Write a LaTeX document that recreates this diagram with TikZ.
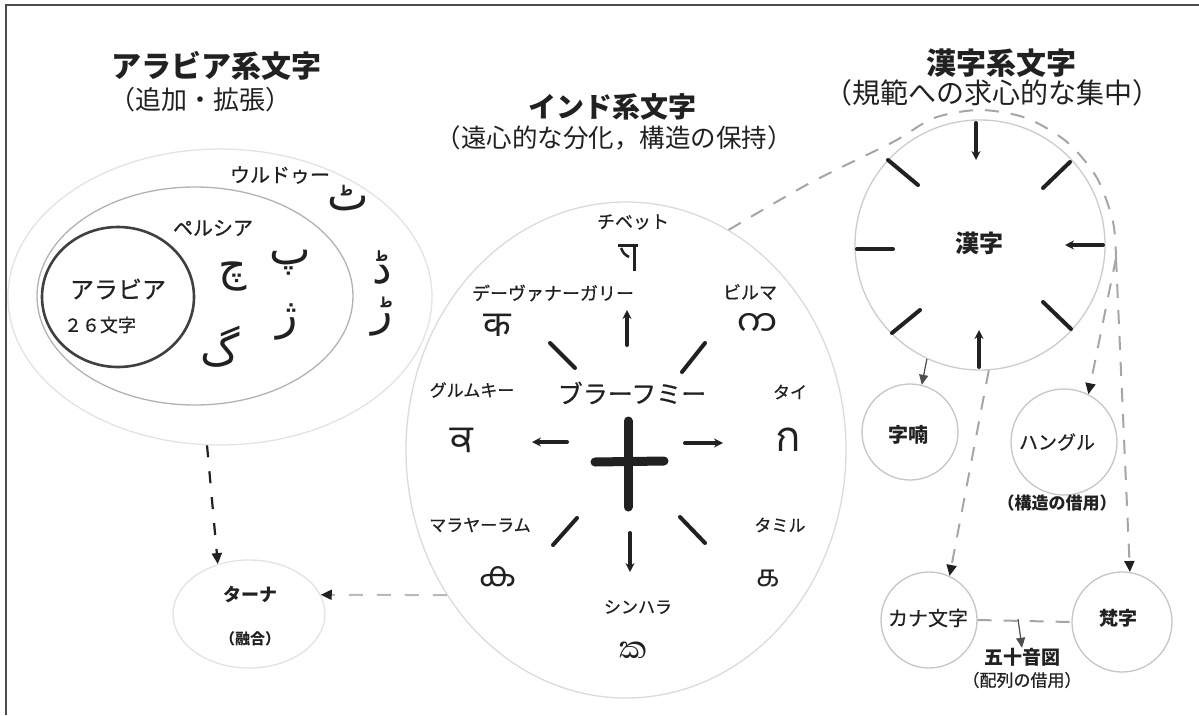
\documentclass[tikz,border=0pt]{standalone}
\usepackage{fontspec}
\setmainfont{Noto Sans CJK JP}
\newfontfamily\jpmed[FakeBold=0.6]{Noto Sans CJK JP}
\TeXXeTstate=1
\newfontfamily\arabicfont[Script=Arabic]{DejaVu Sans}
\newfontfamily\fDeva[Script=Devanagari]{Noto Sans}
\newfontfamily\fGuru[Script=Gurmukhi]{Hind Jalandhar}
\newfontfamily\fMymr[Script=Myanmar]{Noto Sans Myanmar UI}
\newfontfamily\fThai[Script=Thai]{Loma}
\newfontfamily\fTaml[Script=Tamil]{Hind Madurai}
\newfontfamily\fMlym[Script=Malayalam]{Hind Kochi}
\newfontfamily\fSinh[Script=Sinhala]{Abhaya Libre}
\usetikzlibrary{shapes.geometric,arrows.meta,calc}
\newcommand\fsz[1]{\fontsize{#1}{#1}\selectfont}
\definecolor{ink}{gray}{0.13}
\tikzset{
  ring/.style={draw=#1, line width=1.3pt, inner sep=0pt},
  ring/.default={gray!45},
  lbl/.style={inner sep=0pt, text=ink},
  ttl/.style={lbl, font={\bfseries\fsz{30}}},
  subttl/.style={lbl, font={\fsz{26}}},
  spoke/.style={draw=ink, line width=4pt, line cap=round},
  spokeA/.style={spoke, -{Stealth[length=9pt,width=9pt]}},
  dashA/.style={draw=ink, line width=2.2pt, dash pattern=on 12pt off 14pt, -{Triangle[length=11pt,width=10pt]}},
  dashG/.style={draw=gray!55, line width=2pt, dash pattern=on 14pt off 14pt},
  dashH/.style={draw=gray!70, line width=2pt, dash pattern=on 14pt off 12pt},
  tipT/.style={-{Triangle[length=11pt,width=10pt,color=ink]}},
  solidA/.style={draw=ink!80, line width=1.2pt, -{Triangle[length=10pt,width=9pt]}},
  frame/.style={draw=gray!60!black, line width=1.3pt}
}
\begin{document}
\begin{tikzpicture}[x=1pt,y=-1pt]
\useasboundingbox (0,0) rectangle (1199,715);
\fill[white] (0,0) rectangle (1199,715);
\draw[frame] (6,715) -- (6,5) -- (1199,5);

% ---------- titles
\node[ttl] (arabT) at (216,66) {アラビア系文字};
\node[subttl] (arabS) at (200,100) {（追加・拡張）};
\node[ttl, font={\bfseries\fsz{28}}] (indT) at (612,107) {インド系文字};
\node[subttl, font={\fsz{25.5}}] (indS) at (614,138) {（遠心的な分化，構造の保持）};
\node[ttl] (hanT) at (1001,63) {漢字系文字};
\node[subttl, font={\fsz{28}}] (hanS) at (992,93) {（規範への求心的な集中）};

% ---------- Arabic group
\node[ring=gray!22, ellipse, minimum width=424pt, minimum height=296pt] (arabOuter) at (220,297) {};
\node[ring=gray!60, ellipse, minimum width=316pt, minimum height=218pt] (persian) at (195,296) {};
\node[ring=black!75, line width=2.6pt, ellipse, minimum width=152pt, minimum height=140pt] (arabia) at (118,297) {};
\node[lbl, font={\jpmed\fsz{24}}] (arabiaL) at (118,289) {アラビア};
\node[lbl, font={\jpmed\fsz{18}}] (arab26) at (100,325) {２６文字};
\node[lbl, font={\jpmed\fsz{20}}] (persL) at (213,228) {ペルシア};
\node[lbl, font={\jpmed\fsz{20}}] (urduL) at (280,175) {ウルドゥー};
\node[lbl, font={\arabicfont\fsz{44}}] (pCh) at (233,277) {\beginR چ\endR};
\node[lbl, font={\arabicfont\fsz{44}}] (pPe) at (290,263) {\beginR پ\endR};
\node[lbl, font={\arabicfont\fsz{44}}] (pZh) at (287,322) {\beginR ژ\endR};
\node[lbl, font={\arabicfont\fsz{44}}] (pGa) at (220,347) {\beginR گ\endR};
\node[lbl, font={\arabicfont\fsz{44}}] (uTe) at (348,198) {\beginR ٹ\endR};
\node[lbl, font={\arabicfont\fsz{44}}] (uDd) at (382,267) {\beginR ڈ\endR};
\node[lbl, font={\arabicfont\fsz{44}}] (uRr) at (382,317) {\beginR ڑ\endR};

% ---------- Thaana
\node[ring=gray!22, ellipse, minimum width=152pt, minimum height=108pt] (thaana) at (249,614) {};
\node[lbl, font={\bfseries\fsz{18}}] (thaanaL) at (250,595) {ターナ};
\node[lbl, font={\bfseries\fsz{15}}] (thaanaS) at (250,639) {（融合）};

% ---------- Indic group
\node[ring=gray!28, ellipse, minimum width=440pt, minimum height=496pt] (ind) at (626,450) {};
\node[lbl, font={\jpmed\fsz{18}}] (tibL) at (633,222) {チベット};
\draw[draw=ink, line width=3pt] (618,245) -- (638,245);
\draw[draw=ink, line width=3pt] (634,245) -- (634,271);
\draw[draw=ink, line width=2.5pt] (621,248) .. controls (624,254) .. (629,257);
\node[lbl, font={\jpmed\fsz{18}}] (devL) at (553,293) {デーヴァナーガリー};
\node[lbl, font={\fDeva\fsz{36}}] (devG) at (497,325) {क};
\node[lbl, font={\jpmed\fsz{18}}] (burL) at (750,292) {ビルマ};
\node[lbl, font={\fMymr\fsz{36}}] (burG) at (757,325) {က};
\node[lbl, font={\jpmed\fsz{25}}] (brahL) at (632,393) {ブラーフミー};
\node[lbl, font={\jpmed\fsz{17}}] (gurL) at (472,390) {グルムキー};
\node[lbl, font={\fGuru\fsz{38}}] (gurG) at (462,440) {ਕ};
\node[lbl, font={\jpmed\fsz{17}}] (thaiL) at (790,392) {タイ};
\node[lbl, font={\fThai\fsz{42}}] (thaiG) at (788,440) {ก};
\node[lbl, font={\jpmed\fsz{17}}] (malL) at (480,525) {マラヤーラム};
\node[lbl, font={\fMlym\fsz{34}}] (malG) at (498,577) {ക};
\node[lbl, font={\jpmed\fsz{17}}] (tamL) at (780,525) {タミル};
\node[lbl, font={\fTaml\fsz{30}}] (tamG) at (768,578) {க};
\node[lbl, font={\jpmed\fsz{17}}] (sinL) at (638,607) {シンハラ};
\node[lbl, font={\fSinh\fsz{40}}] (sinG) at (633,650) {ක};
% Brahmi ka
\draw[draw=ink, line width=9pt, line cap=round] (628,421) -- (628,507);
\draw[draw=ink, line width=9pt, line cap=round] (595,462) -- (664,461);
% spokes
\draw[spokeA] (627,345) -- (627,310);
\draw[spokeA] (567,442) -- (532,442);
\draw[spokeA] (685,443) -- (723,443);
\draw[spokeA] (630,533) -- (630,572);
\draw[spoke] (550,343) -- (575,368);
\draw[spoke] (705,343) -- (682,372);
\draw[spoke] (577,518) -- (553,545);
\draw[spoke] (680,517) -- (705,543);

% ---------- Han group
\node[ring=gray!40, circle, minimum size=250pt] (han) at (980,245) {};
\node[lbl, font={\bfseries\fsz{24}}] (hanL) at (979,243) {漢字};
\draw[spokeA] (976,123) -- (976,160);
\draw[spokeA] (1103,245) -- (1065,245);
\draw[spokeA] (979,367) -- (979,330);
\draw[spoke] (857,249) -- (893,249);
\draw[spoke] (888,160) -- (918,185);
\draw[spoke] (1070,162) -- (1043,188);
\draw[spoke] (920,310) -- (892,333);
\draw[spoke] (1043,302) -- (1071,329);

\node[ring, circle, minimum size=96pt] (jinan) at (910,432) {};
\node[lbl, font={\bfseries\fsz{20}}] (jinanL) at (908,435) {字喃};
\node[ring, circle, minimum size=106pt] (hangul) at (1064,442) {};
\node[lbl, font={\jpmed\fsz{19}}] (hangulL) at (1057,442) {ハングル};
\node[lbl, font={\bfseries\fsz{17}}] (hangulS) at (1057,503) {（構造の借用）};
\node[ring, circle, minimum size=96pt] (kana) at (929,620) {};
\node[lbl, font={\jpmed\fsz{20}}] (kanaL) at (928,618) {カナ文字};
\node[ring, circle, minimum size=100pt] (bonji) at (1122,622) {};
\node[lbl, font={\bfseries\fsz{19}}] (bonjiL) at (1118,618) {梵字};
\coordinate (tee) at (1018,619);
\node[lbl, font={\bfseries\fsz{19}}] (gojuon) at (1022,657) {五十音図};
\node[lbl, font={\jpmed\fsz{17}}] (gojuonS) at (1022,680) {（配列の借用）};

% ---------- connectors
\draw[dashA] (arabOuter.265) -- (thaana.122);
\draw[dashG, tipT] (ind.219) -- (thaana.15);
\coordinate (split) at (1116,258);
\draw[dashH] plot[smooth] coordinates {(ind.65) (810,183) (893,142) (934,118) (980,110) (1026,118) (1067,142) (1097,178) (1113,222) (split)};
\draw[dashH, tipT] (split) -- (hangul.63);
\draw[dashH, tipT] (split) -- (bonji.81);
\draw[dashH, tipT] (han.-86) -- (kana.65);
\draw[solidA] (han.-115) -- (jinan.76);
\draw[dashH] (kana.east) -- (bonji.west);
\draw[solidA] (tee) -- (gojuon.north);
\end{tikzpicture}
\end{document}
